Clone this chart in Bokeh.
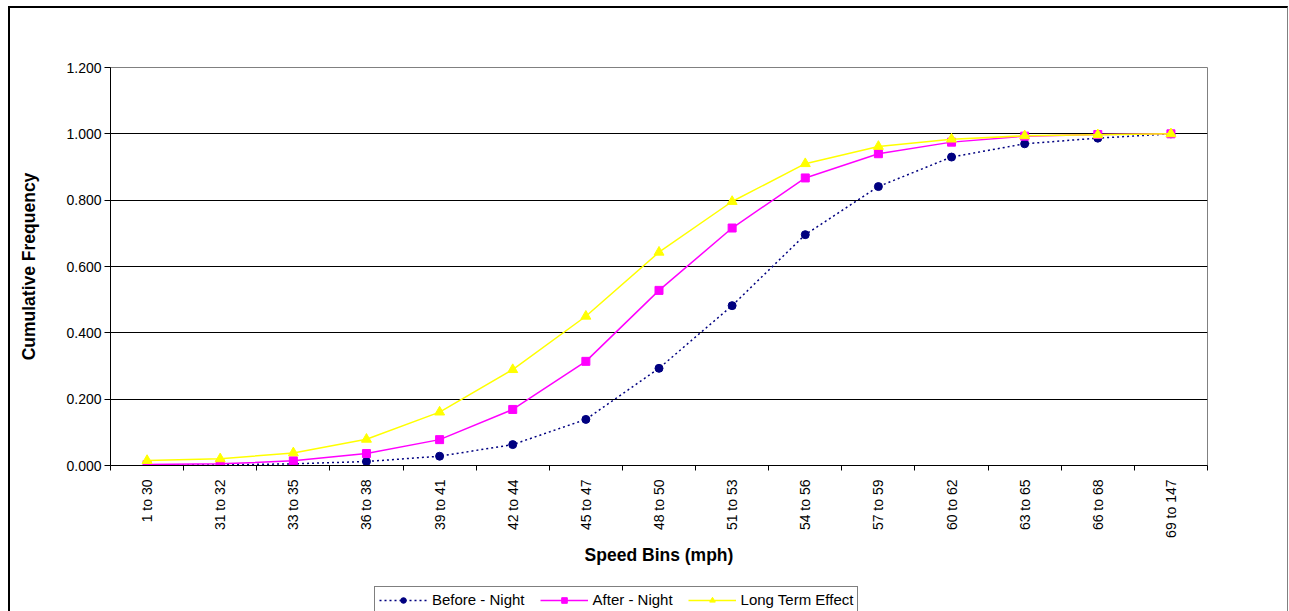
import math
from bokeh.plotting import figure
from bokeh.layouts import column
from bokeh.models import (FixedTicker, NumeralTickFormatter, Legend, LegendItem,
                          Range1d, ColumnDataSource)
from bokeh.embed import file_html
from bokeh.resources import INLINE

categories = ["1 to 30", "31 to 32", "33 to 35", "36 to 38", "39 to 41", "42 to 44",
              "45 to 47", "48 to 50", "51 to 53", "54 to 56", "57 to 59", "60 to 62",
              "63 to 65", "66 to 68", "69 to 147"]
before_night = [0.000, 0.002, 0.005, 0.012, 0.028, 0.063, 0.139, 0.293, 0.482, 0.696,
                0.841, 0.930, 0.970, 0.987, 1.000]
after_night = [0.003, 0.005, 0.014, 0.036, 0.078, 0.169, 0.314, 0.528, 0.716, 0.867,
               0.940, 0.975, 0.993, 0.998, 1.000]
long_term = [0.015, 0.020, 0.038, 0.079, 0.161, 0.289, 0.450, 0.643, 0.796, 0.910,
             0.962, 0.984, 0.994, 0.997, 1.000]
series_names = ["Before - Night", "After - Night", "Long Term Effect"]
y_ticks = [0.0, 0.2, 0.4, 0.6, 0.8, 1.0, 1.2]

FONT = "Liberation Sans"
xs = list(range(len(categories)))
src = ColumnDataSource(dict(x=xs, before=before_night, after=after_night, lt=long_term))

p = figure(frame_width=1097, frame_height=398, output_backend="svg", toolbar_location=None,
           x_range=Range1d(-0.5, len(categories) - 0.5), y_range=Range1d(0, 1.2),
           min_border_left=100, min_border_right=80, min_border_top=59,
           min_border_bottom=112)

p.background_fill_color = "#FFFFFF"
p.border_fill_color = "#FFFFFF"
p.outline_line_color = "#808080"
p.outline_line_width = 1

# grid
p.xgrid.visible = False
p.ygrid.grid_line_color = "#000000"
p.ygrid.grid_line_width = 1
p.ygrid.ticker = FixedTicker(ticks=y_ticks)

# y axis
p.yaxis.ticker = FixedTicker(ticks=y_ticks)
p.yaxis.formatter = NumeralTickFormatter(format="0.000")
p.yaxis.axis_line_color = "#000000"
p.yaxis.major_tick_line_color = "#000000"
p.yaxis.major_tick_out = 6
p.yaxis.major_tick_in = 0
p.yaxis.minor_tick_line_color = None
p.yaxis.major_label_text_font = FONT
p.yaxis.major_label_text_font_size = "14px"
p.yaxis.major_label_text_color = "#000000"
p.yaxis.major_label_standoff = 3
p.yaxis.axis_label = "Cumulative Frequency"
p.yaxis.axis_label_text_font = FONT
p.yaxis.axis_label_text_font_style = "bold"
p.yaxis.axis_label_text_font_size = "17.5px"
p.yaxis.axis_label_text_color = "#000000"
p.yaxis.axis_label_standoff = 24

# x axis (labels at category centres, tick marks between categories)
bounds = [i - 0.5 for i in range(len(categories) + 1)]
p.xaxis.ticker = FixedTicker(ticks=xs, minor_ticks=bounds)
p.xaxis.major_label_overrides = {i: c for i, c in enumerate(categories)}
p.xaxis.major_label_orientation = math.pi / 2
p.xaxis.axis_line_color = "#000000"
p.xaxis.major_tick_out = 0
p.xaxis.major_tick_in = 0
p.xaxis.minor_tick_line_color = "#000000"
p.xaxis.minor_tick_out = 5
p.xaxis.minor_tick_in = 0
p.xaxis.major_label_text_font = FONT
p.xaxis.major_label_text_font_size = "14px"
p.xaxis.major_label_text_color = "#000000"
p.xaxis.major_label_standoff = 9
p.xaxis.axis_label = "Speed Bins (mph)"
p.xaxis.axis_label_text_font = FONT
p.xaxis.axis_label_text_font_style = "bold"
p.xaxis.axis_label_text_font_size = "17.5px"
p.xaxis.axis_label_text_color = "#000000"
p.xaxis.axis_label_standoff = 4

styles = [dict(color="#000080", marker="circle", size=8, dash="2 3"),
          dict(color="#FF00FF", marker="square", size=8, dash="solid"),
          dict(color="#FFFF00", marker="triangle", size=10, dash="solid")]
cols = ["before", "after", "lt"]

for col, st in zip(cols, styles):
    p.line("x", col, source=src, line_color=st["color"], line_width=1.5,
           line_dash=st["dash"])
    p.scatter("x", col, source=src, marker=st["marker"], size=st["size"],
              fill_color=st["color"], line_color=st["color"])

# legend strip below the chart; its series renderers fall outside this strip's
# ranges, so only the legend (with its glyph samples) is visible
pl = figure(width=1277, height=34, output_backend="svg", toolbar_location=None,
            x_axis_type=None, y_axis_type=None, x_range=Range1d(0, 1),
            y_range=Range1d(5, 6), min_border=0)
pl.outline_line_color = None
pl.xgrid.visible = False
pl.ygrid.visible = False
pl.background_fill_color = "#FFFFFF"
pl.border_fill_color = "#FFFFFF"
items = []
for name, col, st in zip(series_names, cols, styles):
    lr = pl.line("x", col, source=src, line_color=st["color"], line_width=1.5,
                 line_dash=st["dash"])
    mr = pl.scatter("x", col, source=src, marker=st["marker"], size=st["size"],
                    fill_color=st["color"], line_color=st["color"])
    items.append(LegendItem(label=name, renderers=[lr, mr], index=0))

legend = Legend(items=items, orientation="horizontal", location=(264, -2))
legend.label_text_font = FONT
legend.label_text_font_size = "15px"
legend.label_text_color = "#000000"
legend.glyph_width = 48
legend.glyph_height = 14
legend.label_standoff = 5
legend.spacing = 15
legend.padding = 4
legend.margin = 0
legend.border_line_color = "#000000"
legend.border_line_width = 1
legend.background_fill_color = "#FFFFFF"
pl.add_layout(legend, "center")

layout = column(p, pl, spacing=0,
                styles={"margin-left": "8px", "margin-top": "6px",
                        "border-left": "2px solid #000000",
                        "border-top": "2px solid #000000",
                        "border-right": "1px solid #808080"})

open("out.html", "w").write(file_html(layout, INLINE))
